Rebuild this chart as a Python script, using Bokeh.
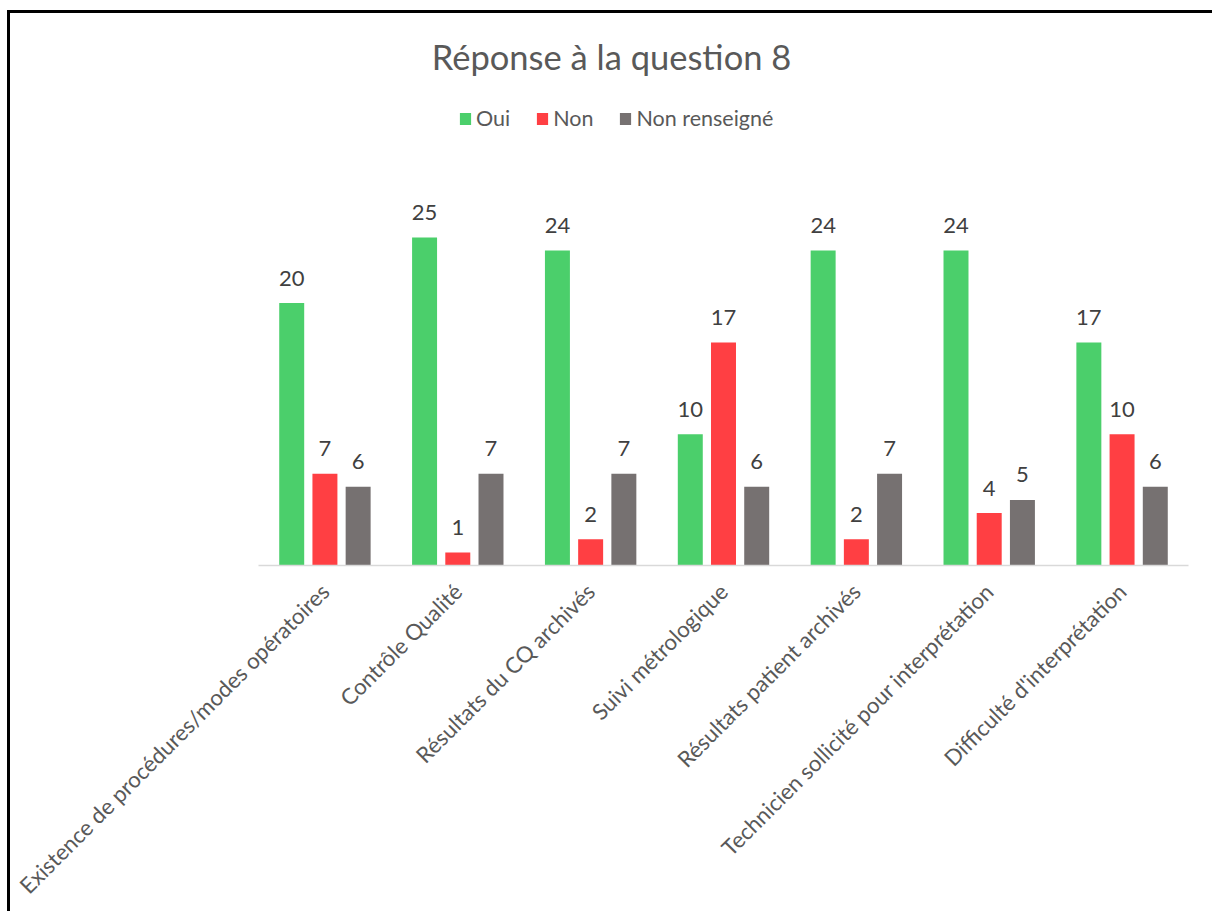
from bokeh.plotting import figure
from bokeh.models import ColumnDataSource, FactorRange, Range1d, Legend, LegendItem, Label
from bokeh.transform import dodge
from bokeh.core.properties import value
from bokeh.embed import file_html
from bokeh.resources import INLINE

categories = [
    "Existence de procédures/modes opératoires",
    "Contrôle Qualité",
    "Résultats du CQ archivés",
    "Suivi métrologique",
    "Résultats patient archivés",
    "Technicien sollicité pour interprétation",
    "Difficulté d'interprétation",
]
oui = [20, 25, 24, 10, 24, 24, 17]
non = [7, 1, 2, 17, 2, 4, 10]
non_renseigne = [6, 7, 7, 6, 7, 5, 6]

series_names = ["Oui", "Non", "Non renseigné"]
colors = ["#4BCF6B", "#FF3F43", "#767171"]
TEXT = "#595959"
LABEL_TEXT = "#404040"
FONT = "Lato"

src = ColumnDataSource(dict(cat=categories, oui=oui, non=non, nr=non_renseigne,
                            oui_t=[str(v) for v in oui], non_t=[str(v) for v in non],
                            nr_t=[str(v) for v in non_renseigne]))

p = figure(width=1205, height=901, x_range=FactorRange(*categories), y_range=Range1d(0, 42.07),
           output_backend="svg", toolbar_location=None, tools="",
           min_border_left=248, min_border_right=27, min_border_top=0, min_border_bottom=349,
           outline_line_color=None, y_axis_location=None)
p.styles = {"border-top": "3px solid #000000", "border-left": "3px solid #000000",
            "margin-left": "7px", "margin-top": "10px"}

p.xgrid.grid_line_color = None
p.ygrid.grid_line_color = None

ax = p.xaxis[0]
ax.axis_line_color = "#D9D9D9"
ax.axis_line_width = 1.5
ax.major_tick_line_color = None
ax.minor_tick_line_color = None
ax.major_label_orientation = 0.7854
ax.major_label_text_font = FONT
ax.major_label_text_font_size = "22.2px"
ax.major_label_text_color = TEXT
ax.major_label_standoff = 16

offsets = [-0.25, 0.0, 0.25]
fields = ["oui", "non", "nr"]
renderers = []
for f, off, c in zip(fields, offsets, colors):
    r = p.vbar(x=dodge("cat", off, range=p.x_range), top=f, width=0.188, source=src,
               fill_color=c, line_color=None)
    renderers.append(r)
    p.text(x=dodge("cat", off, range=p.x_range), y=f, text=f + "_t", source=src,
           text_align="center", text_baseline="alphabetic", y_offset=-25,
           text_font=value(FONT), text_font_size="22px", text_color=LABEL_TEXT)

title = Label(x=353, y=509, x_units="screen", y_units="screen", text="Réponse à la question 8",
              text_align="center", text_baseline="alphabetic", text_font=FONT,
              text_font_size="34.5px", text_color=TEXT)
p.add_layout(title)

legend = Legend(items=[LegendItem(label=n, renderers=[r]) for n, r in zip(series_names, renderers)],
                orientation="horizontal", location=(200, 434),
                glyph_width=14, glyph_height=15, label_standoff=4, spacing=25,
                padding=0, margin=0, border_line_color=None, background_fill_alpha=0,
                label_text_font=FONT, label_text_font_size="21.5px", label_text_color=TEXT)
p.add_layout(legend, "center")

open("out.html", "w").write(file_html(p, INLINE))
